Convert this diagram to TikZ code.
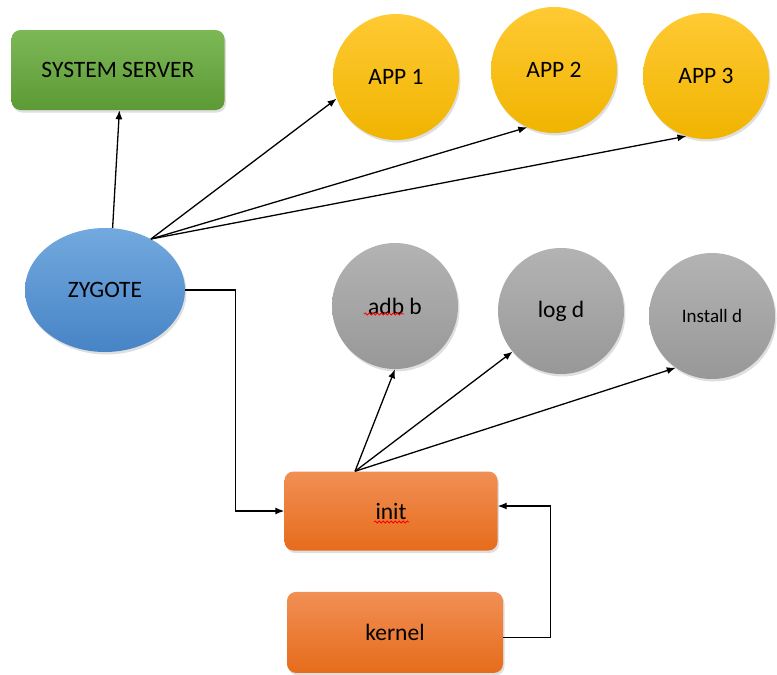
\documentclass[tikz,border=0pt]{standalone}
\usepackage{fontspec}
\setmainfont{Carlito}
\usepackage{tikz}
\usetikzlibrary{shapes}
\usetikzlibrary{positioning}
\usetikzlibrary{arrows.meta,shadows,decorations.pathmorphing}

\definecolor{greenTop}{HTML}{7DB857}
\definecolor{greenBot}{HTML}{5C9A35}
\definecolor{yellowTop}{HTML}{FFCA33}
\definecolor{yellowBot}{HTML}{F0B400}
\definecolor{blueTop}{HTML}{72A9DE}
\definecolor{blueBot}{HTML}{4784C6}
\definecolor{grayTop}{HTML}{B3B3B3}
\definecolor{grayBot}{HTML}{989898}
\definecolor{orangeTop}{HTML}{F18F55}
\definecolor{orangeBot}{HTML}{E66C1B}

\begin{document}
\begin{tikzpicture}[x=1pt, y=-1pt,
    base/.style={inner sep=0pt, font=\fontsize{23.5}{27}\selectfont,
        drop shadow={opacity=0.25, shadow xshift=1.5pt, shadow yshift=-2.5pt}},
    sys/.style={base, rectangle, rounded corners=9pt, minimum width=213pt, minimum height=80pt, top color=greenTop, bottom color=greenBot},
    app/.style={base, circle, minimum size=126pt, top color=yellowTop, bottom color=yellowBot},
    zyg/.style={base, ellipse, minimum width=160pt, minimum height=124pt, top color=blueTop, bottom color=blueBot},
    daemon/.style={base, circle, minimum size=126pt, top color=grayTop, bottom color=grayBot},
    boot/.style={base, rectangle, rounded corners=9pt, minimum width=213pt, minimum height=79pt, top color=orangeTop, bottom color=orangeBot},
    arr/.style={-{Latex[length=9pt, width=7pt]}, line width=1.3pt},
    spell/.style={red, line width=0.8pt, decorate, decoration={snake, amplitude=1.1pt, segment length=4pt}}]
    \useasboundingbox (0,0) rectangle (777,675);

    \node[sys] (sysServer) at (118,70) {SYSTEM SERVER};
    \node[zyg] (zygote) at (105,290) {ZYGOTE};

    \node[app] (app1) at (396,77) {APP 1};
    \node[app] (app2) at (554,70) {APP 2};
    \node[app] (app3) at (706,76) {APP 3};

    \node[daemon] (adbb) at (395,306) {adb b};
    \node[daemon] (logd) at (561,311) {log d};
    \node[daemon, font=\fontsize{19}{23}\selectfont] (installd) at (712,316) {Install d};

    \node[boot] (init) at (391,511) {init};
    \node[boot, minimum width=216pt, minimum height=81pt] (kernel) [below=41pt of init, xshift=4pt] {kernel};

    % spell check marks
    \draw[spell] ([xshift=-31pt, yshift=-8pt]adbb.center) -- ++(40,0);
    \draw[spell] ([xshift=-17pt, yshift=-11pt]init.center) -- ++(35,0);

    \coordinate (fan) at (zygote.48);
    \coordinate (initTop) at ([xshift=-36pt]init.north);

    \draw[arr] (zygote.83) -- (sysServer.272);
    \draw[arr] (fan) -- (app1.200);
    \draw[arr] (fan) -- (app2.245);
    \draw[arr] (fan) -- (app3.252);

    \draw[arr] (zygote.east) -- ++(50,0) % right
               |- (init.west);            % down, then into init
    \draw[arr] ([yshift=-5pt]kernel.east) -- ++(47,0)
               |- ([yshift=5pt]init.east);

    \draw[arr] (initTop) -- (adbb.270);
    \draw[arr] (initTop) -- (logd.220);
    \draw[arr] (initTop) -- (installd.235);
\end{tikzpicture}
\end{document}
